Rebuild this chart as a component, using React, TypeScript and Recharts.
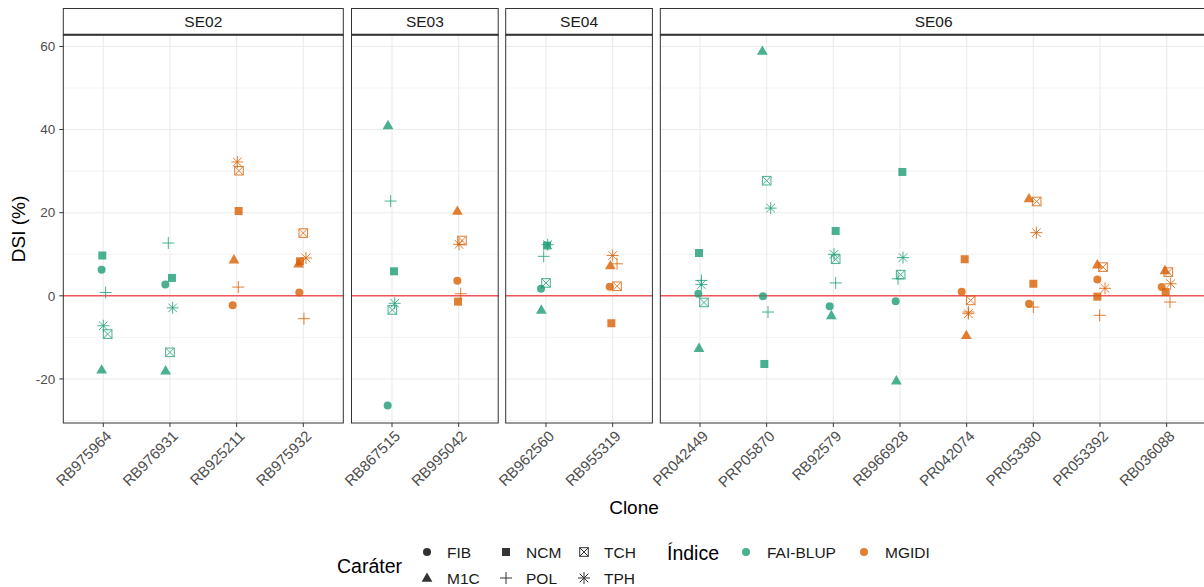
import React from 'react';
import { ScatterChart, Scatter, XAxis, YAxis, ReferenceLine } from 'recharts';

// clones in plotting order, grouped by environment (facet)
const clones = [
  'RB975964', 'RB976931', 'RB925211', 'RB975932',
  'RB867515', 'RB995042',
  'RB962560', 'RB955319',
  'PR042449', 'PRP05870', 'RB92579', 'RB966928', 'PR042074', 'PR053380', 'PR053392', 'RB036088',
];
const environments = [
  'SE02', 'SE02', 'SE02', 'SE02',
  'SE03', 'SE03',
  'SE04', 'SE04',
  'SE06', 'SE06', 'SE06', 'SE06', 'SE06', 'SE06', 'SE06', 'SE06',
];
const indices = [
  'FAI-BLUP', 'FAI-BLUP', 'MGIDI', 'MGIDI',
  'FAI-BLUP', 'MGIDI',
  'FAI-BLUP', 'MGIDI',
  'FAI-BLUP', 'FAI-BLUP', 'FAI-BLUP', 'FAI-BLUP', 'MGIDI', 'MGIDI', 'MGIDI', 'MGIDI',
];
const panels = ['SE02', 'SE03', 'SE04', 'SE06'];
const characters = ['FIB', 'M1C', 'NCM', 'POL', 'TCH', 'TPH'];

// DSI (%) per character, one value per clone
const fib = [6.3, 2.7, -2.3, 0.8, -26.4, 3.6, 1.7, 2.2, 0.5, -0.1, -2.5, -1.3, 1.0, -1.9, 3.9, 2.1];
const m1c = [-17.8, -18.0, 8.7, 7.7, 41.0, 20.4, -3.4, 7.3, -12.6, 58.9, -4.7, -20.4, -9.5, 23.4, 7.5, 6.1];
const ncm = [9.7, 4.3, 20.4, 8.3, 5.9, -1.4, 12.1, -6.6, 10.3, -16.4, 15.6, 29.8, 8.8, 2.9, -0.2, 0.9];
const pol = [0.8, 12.7, 2.1, -5.5, 22.8, 0.5, 9.5, 7.7, 3.7, -3.9, 3.1, 4.1, -3.9, -2.7, -4.7, -1.5];
const tch = [-9.2, -13.6, 30.1, 15.1, -3.4, 13.3, 3.1, 2.3, -1.6, 27.7, 8.8, 5.1, -1.1, 22.7, 6.9, 5.7];
const tph = [-7.2, -2.9, 32.2, 9.1, -1.8, 12.4, 12.3, 9.7, 2.7, 21.1, 10.0, 9.2, -4.3, 15.2, 1.8, 2.9];

// horizontal jitter (in category units) as seen in the figure
const fibJit = [-0.025, -0.07, -0.06, -0.06, -0.065, -0.02, -0.075, -0.045, -0.025, -0.055, -0.055, -0.065, -0.075, -0.065, -0.04, -0.075];
const m1cJit = [-0.025, -0.065, -0.04, -0.07, -0.06, -0.02, -0.07, -0.035, -0.015, -0.065, -0.03, -0.055, -0.005, -0.065, -0.04, -0.025];
const ncmJit = [-0.015, 0.03, 0.03, -0.05, 0.03, -0.01, 0.015, -0.02, -0.015, -0.035, 0.035, 0.035, -0.03, 0, -0.04, -0.015];
const polJit = [0.035, -0.025, 0.025, 0.01, -0.02, 0.03, -0.035, 0.065, 0.02, 0.02, 0.035, -0.03, 0.025, 0, -0.005, 0.05];
const tchJit = [0.065, 0, 0.035, 0, 0.005, 0.05, 0, 0.065, 0.06, 0, 0.035, 0.01, 0.06, 0.05, 0.045, 0.025];
const tphJit = [0, 0.04, 0.01, 0.04, 0.04, 0.005, 0.025, 0, 0.02, 0.06, 0.01, 0.045, 0.025, 0.045, 0.075, 0.06];

const yTicks = [-20, 0, 20, 40, 60];
const yMinor = [-30, -10, 10, 30, 50];

const VALUES: Record<string, number[]> = { FIB: fib, M1C: m1c, NCM: ncm, POL: pol, TCH: tch, TPH: tph };
const JITTER: Record<string, number[]> = { FIB: fibJit, M1C: m1cJit, NCM: ncmJit, POL: polJit, TCH: tchJit, TPH: tphJit };

const COLORS: Record<string, string> = { 'FAI-BLUP': '#1B9E77', MGIDI: '#D95F02' };
const FONT = "'Liberation Sans', Arial, Helvetica, sans-serif";
const GRID = '#EBEBEB';
const BORDER = '#333333';

// layout of the facets
const Y_AXIS_W = 63.3;
const PLOT_TOP = 35;
const CHART_H = 587;
const PLOT_BOTTOM = 423;
const X_AXIS_H = CHART_H - PLOT_BOTTOM;
const Y_DOMAIN: [number, number] = [-30.6, 62.75];
const LAYOUT = [
  { left: 63.3, width: 280 },
  { left: 351.5, width: 146.7 },
  { left: 505.7, width: 146.7 },
  { left: 660.3, width: 546.7 },
];

function Marker({ kind, cx, cy, color }: { kind: string; cx: number; cy: number; color: string }) {
  switch (kind) {
    case 'FIB':
      return <circle cx={cx} cy={cy} r={4} fill={color} />;
    case 'M1C':
      return (
        <polygon
          points={`${cx},${cy - 5.6} ${cx - 5.4},${cy + 3.8} ${cx + 5.4},${cy + 3.8}`}
          fill={color}
        />
      );
    case 'NCM':
      return <rect x={cx - 4} y={cy - 4} width={8} height={8} fill={color} />;
    case 'POL':
      return (
        <path d={`M${cx - 6},${cy}H${cx + 6}M${cx},${cy - 6}V${cy + 6}`} stroke={color} strokeWidth={1} fill="none" />
      );
    case 'TCH':
      return (
        <g stroke={color} strokeWidth={1} fill="none">
          <rect x={cx - 4.3} y={cy - 4.3} width={8.6} height={8.6} />
          <path d={`M${cx - 4.3},${cy - 4.3}L${cx + 4.3},${cy + 4.3}M${cx - 4.3},${cy + 4.3}L${cx + 4.3},${cy - 4.3}`} />
        </g>
      );
    case 'TPH':
      return (
        <path
          d={`M${cx - 6},${cy}H${cx + 6}M${cx},${cy - 6}V${cy + 6}M${cx - 4.3},${cy - 4.3}L${cx + 4.3},${cy + 4.3}M${cx - 4.3},${cy + 4.3}L${cx + 4.3},${cy - 4.3}`}
          stroke={color}
          strokeWidth={1}
          fill="none"
        />
      );
    default:
      return null;
  }
}

function Panel({ panel, pos }: { panel: string; pos: number }) {
  const members = clones.map((_, i) => i).filter((i) => environments[i] === panel);
  const names = members.map((i) => clones[i]);
  const n = members.length;
  const withAxis = pos === 0;
  const layout = LAYOUT[pos];
  const width = layout.width + (withAxis ? Y_AXIS_W : 0);

  const XTick = (props: any) => {
    const { x, y, payload } = props;
    return (
      <g transform={`translate(${x + 1.5},${y + 0.5})`}>
        <text
          transform="rotate(-45)"
          textAnchor="end"
          dy="0.71em"
          fontSize={15}
          fill="#4D4D4D"
          fontFamily={FONT}
        >
          {names[payload.value]}
        </text>
      </g>
    );
  };

  return (
    <div style={{ position: 'absolute', top: 0, left: withAxis ? 0 : layout.left }}>
      <ScatterChart width={width} height={CHART_H} margin={{ top: PLOT_TOP, right: 0, bottom: 0, left: 0 }}>
        <XAxis
          type="number"
          dataKey="x"
          domain={[-0.6, n - 0.4]}
          ticks={names.map((_, j) => j)}
          interval={0}
          allowDataOverflow
          height={X_AXIS_H}
          axisLine={false}
          tickSize={4}
          tickLine={{ stroke: BORDER }}
          tick={<XTick />}
        />
        <YAxis
          type="number"
          dataKey="y"
          domain={Y_DOMAIN}
          ticks={yTicks}
          allowDataOverflow
          hide={!withAxis}
          width={Y_AXIS_W}
          axisLine={false}
          tickSize={4}
          tickMargin={4}
          tickLine={{ stroke: BORDER }}
          tick={{ fill: '#4D4D4D', fontSize: 13.5, fontFamily: FONT }}
        />
        {yMinor.map((v) => (
          <ReferenceLine key={`mn${v}`} y={v} stroke={GRID} strokeWidth={0.6} />
        ))}
        {yTicks.map((v) => (
          <ReferenceLine key={`mj${v}`} y={v} stroke={GRID} strokeWidth={1.1} />
        ))}
        {names.map((_, j) => (
          <ReferenceLine key={`v${j}`} x={j} stroke={GRID} strokeWidth={1.1} />
        ))}
        <ReferenceLine y={0} stroke="#F0555A" strokeWidth={1.4} />
        {characters.map((ch) => (
          <Scatter
            key={ch}
            name={ch}
            isAnimationActive={false}
            data={members.map((ci, j) => ({ x: j + JITTER[ch][ci], y: VALUES[ch][ci], idx: indices[ci] }))}
            shape={(p: any) => (
              <g opacity={0.8}>
                <Marker kind={ch} cx={p.cx} cy={p.cy} color={COLORS[p.payload.idx]} />
              </g>
            )}
          />
        ))}
      </ScatterChart>
    </div>
  );
}

function Overlay() {
  const legendRows = [
    ['FIB', 'NCM', 'TCH'],
    ['M1C', 'POL', 'TPH'],
  ];
  const colX = [427, 506, 584];
  const rowY = [552, 578];
  return (
    <svg width={1204} height={587} style={{ position: 'absolute', left: 0, top: 0, pointerEvents: 'none' }}>
      {panels.map((p, i) => {
        const l = LAYOUT[i];
        return (
          <g key={p}>
            <rect x={l.left} y={PLOT_TOP} width={l.width} height={PLOT_BOTTOM - PLOT_TOP} fill="none" stroke={BORDER} strokeWidth={1} />
            <rect x={l.left} y={8.5} width={l.width} height={PLOT_TOP - 8.5} fill="#FFFFFF" stroke={BORDER} strokeWidth={1} />
            <line x1={l.left} x2={l.left + l.width} y1={PLOT_TOP - 0.5} y2={PLOT_TOP - 0.5} stroke={BORDER} strokeWidth={1.5} />
            <text
              x={l.left + l.width / 2}
              y={27}
              textAnchor="middle"
              fontSize={15.5}
              fill="#1A1A1A"
              fontFamily={FONT}
            >
              {p}
            </text>
          </g>
        );
      })}
      <text x={634} y={514} textAnchor="middle" fontSize={19} fill="#000" fontFamily={FONT}>
        Clone
      </text>
      <text
        transform="translate(25,229) rotate(-90)"
        textAnchor="middle"
        fontSize={19}
        fill="#000"
        fontFamily={FONT}
      >
        DSI (%)
      </text>

      <text x={337} y={573} fontSize={19.5} fill="#000" fontFamily={FONT}>
        Caráter
      </text>
      {legendRows.map((row, r) =>
        row.map((ch, c) => (
          <g key={ch}>
            <Marker kind={ch} cx={colX[c]} cy={rowY[r]} color="#333333" />
            <text x={colX[c] + 20} y={rowY[r] + 5.5} fontSize={15.5} fill="#1A1A1A" fontFamily={FONT}>
              {ch}
            </text>
          </g>
        ))
      )}

      <text x={667} y={560} fontSize={19.5} fill="#000" fontFamily={FONT}>
        Índice
      </text>
      {['FAI-BLUP', 'MGIDI'].map((k, i) => {
        const cx = i === 0 ? 746 : 864;
        return (
          <g key={k}>
            <g opacity={0.8}>
              <Marker kind="FIB" cx={cx} cy={552} color={COLORS[k]} />
            </g>
            <text x={cx + 21} y={557.5} fontSize={15.5} fill="#1A1A1A" fontFamily={FONT}>
              {k}
            </text>
          </g>
        );
      })}
    </svg>
  );
}

export default function App() {
  return (
    <div
      style={{
        position: 'absolute',
        left: 0,
        top: 0,
        width: 1204,
        height: 587,
        overflow: 'hidden',
        background: '#FFFFFF',
        fontFamily: FONT,
      }}
    >
      <style>{'.recharts-wrapper, .recharts-surface { overflow: visible !important; }'}</style>
      {panels.map((p, i) => (
        <Panel key={p} panel={p} pos={i} />
      ))}
      <Overlay />
    </div>
  );
}
